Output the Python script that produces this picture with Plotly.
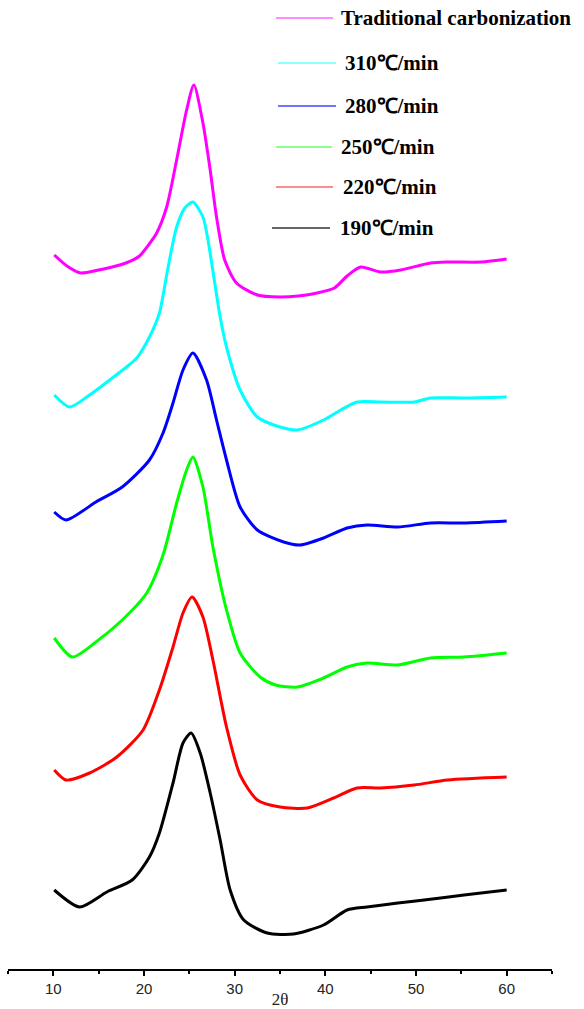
import plotly.graph_objects as go

# ---- data (intensity in arbitrary units, curves offset) ----
trad_x = [10.1, 11.5, 13.0, 15.0, 16.5, 18.0, 19.5, 20.5, 21.4, 22.5, 23.6, 24.7, 25.5, 26.5, 27.3, 28.0, 28.9, 30.2, 32.5, 35.0, 37.0, 39.1, 41.0, 42.4, 43.9, 46.1, 48.3, 51.6, 53.5, 57.2, 60.0]
trad_y = [714, 703, 696, 699, 702, 706, 713, 724, 736, 762, 809, 859, 884, 846, 799, 752, 709, 686, 674, 672, 673, 676, 681, 693, 702, 697, 699, 706, 707, 707, 710]

r310_x = [10.1, 11.8, 14.0, 16.5, 19.2, 20.6, 21.7, 22.6, 23.6, 24.5, 25.4, 26.5, 27.0, 28.4, 29.1, 30.6, 32.5, 35.0, 36.9, 39.8, 41.7, 43.5, 46.1, 49.8, 51.6, 55.3, 60.0]
r310_y = [574, 562, 574, 591, 611, 632, 656, 699, 742, 761, 767, 752, 732, 652, 622, 579, 552, 542, 539, 549, 559, 567, 567, 567, 571, 571, 572]

r280_x = [10.1, 11.4, 14.7, 17.6, 20.6, 22.1, 23.2, 24.3, 25.4, 26.9, 28.0, 29.1, 30.6, 32.5, 35.4, 37.2, 39.8, 42.4, 44.6, 48.0, 51.6, 55.3, 60.0]
r280_y = [457, 449, 467, 482, 509, 536, 566, 599, 616, 589, 549, 509, 462, 439, 427, 424, 431, 441, 444, 442, 446, 446, 448]

r250_x = [10.1, 12.1, 14.7, 17.6, 20.3, 22.1, 23.6, 24.7, 25.4, 26.5, 27.6, 29.1, 30.6, 32.8, 34.5, 36.9, 39.8, 42.4, 44.6, 48.0, 51.6, 55.3, 60.0]
r250_y = [331, 312, 327, 349, 376, 414, 466, 499, 512, 482, 422, 359, 316, 292, 284, 282, 291, 302, 306, 304, 311, 312, 316]

r220_x = [10.1, 11.4, 14.0, 17.0, 19.9, 21.7, 23.2, 24.3, 25.3, 26.5, 27.6, 29.1, 30.6, 32.5, 35.0, 38.0, 40.9, 43.5, 46.1, 49.8, 53.5, 60.0]
r220_y = [199, 189, 196, 212, 239, 279, 322, 356, 372, 352, 309, 242, 194, 169, 162, 161, 171, 181, 181, 184, 189, 192]

r190_x = [10.1, 12.9, 15.9, 18.7, 20.6, 21.7, 23.2, 24.3, 25.2, 26.2, 27.3, 28.4, 29.5, 31.0, 33.6, 36.5, 39.8, 42.4, 44.6, 48.0, 50.9, 55.3, 60.0]
r190_y = [79, 62, 77, 89, 112, 136, 186, 226, 236, 216, 176, 129, 79, 49, 36, 35, 44, 59, 62, 66, 69, 74, 79]

names = ["Traditional carbonization", "310℃/min", "280℃/min", "250℃/min", "220℃/min", "190℃/min"]
xs = [trad_x, r310_x, r280_x, r250_x, r220_x, r190_x]
ys = [trad_y, r310_y, r280_y, r250_y, r220_y, r190_y]
colors = ["#FF00FF", "#00FFFF", "#0000FF", "#00FF00", "#FF0000", "#000000"]
legend_colors = ["#FF66FF", "#66FFFF", "#4444FF", "#66FF66", "#FF6666", "#333333"]

x_ticks = [10, 20, 30, 40, 50, 60]

W, H = 584, 1009
ML, MR, MT, MB = 8, 32, 0, 40
PW, PH = W - ML - MR, H - MT - MB

fig = go.Figure()
for x, y, n, c in zip(xs, ys, names, colors):
    fig.add_trace(go.Scatter(x=x, y=y, name=n, mode="lines",
                             line=dict(color=c, width=3, shape="spline", smoothing=0.7),
                             showlegend=False))

# manual legend (line samples + labels), positions in pixels
leg_rows = [(18, 276, 333, 339), (63, 278, 336, 343), (106, 278, 336, 343),
            (147, 276, 332, 339), (187, 276, 333, 341), (228, 272, 330, 338)]
shapes = []
annotations = []
for (py, x0, x1, tx), n, c in zip(leg_rows, names, legend_colors):
    yp = (H - MB - py) / PH
    shapes.append(dict(type="line", xref="paper", yref="paper",
                       x0=(x0 - ML) / PW, x1=(x1 - ML) / PW, y0=yp, y1=yp,
                       line=dict(color=c, width=1.3)))
    annotations.append(dict(xref="paper", yref="paper", x=(tx - ML) / PW, y=yp,
                            xanchor="left", yanchor="middle", showarrow=False,
                            text="<b>" + n + "</b>",
                            font=dict(family="Liberation Serif, Times New Roman, serif",
                                      size=21, color="black")))

fig.update_layout(
    width=W, height=H,
    margin=dict(l=ML, r=MR, t=MT, b=MB),
    paper_bgcolor="white", plot_bgcolor="white",
    shapes=shapes, annotations=annotations,
    xaxis=dict(range=[5, 65], tickvals=x_ticks, ticks="outside", ticklen=5, tickwidth=1.5,
               tickcolor="black", showline=True, linecolor="black", linewidth=1.8,
               showgrid=False, zeroline=False,
               minor=dict(dtick=5, tick0=5, ticks="outside", ticklen=3, tickwidth=1.5,
                          tickcolor="black", showgrid=False),
               tickfont=dict(family="Liberation Sans, Arial, sans-serif", size=15, color="#222"),
               title=dict(text="2θ", standoff=0,
                          font=dict(family="Liberation Serif, Times New Roman, serif", size=17, color="#222")),
               automargin=False),
    yaxis=dict(range=[0, PH], visible=False, showgrid=False, zeroline=False),
)

fig.write_html("out.html")
